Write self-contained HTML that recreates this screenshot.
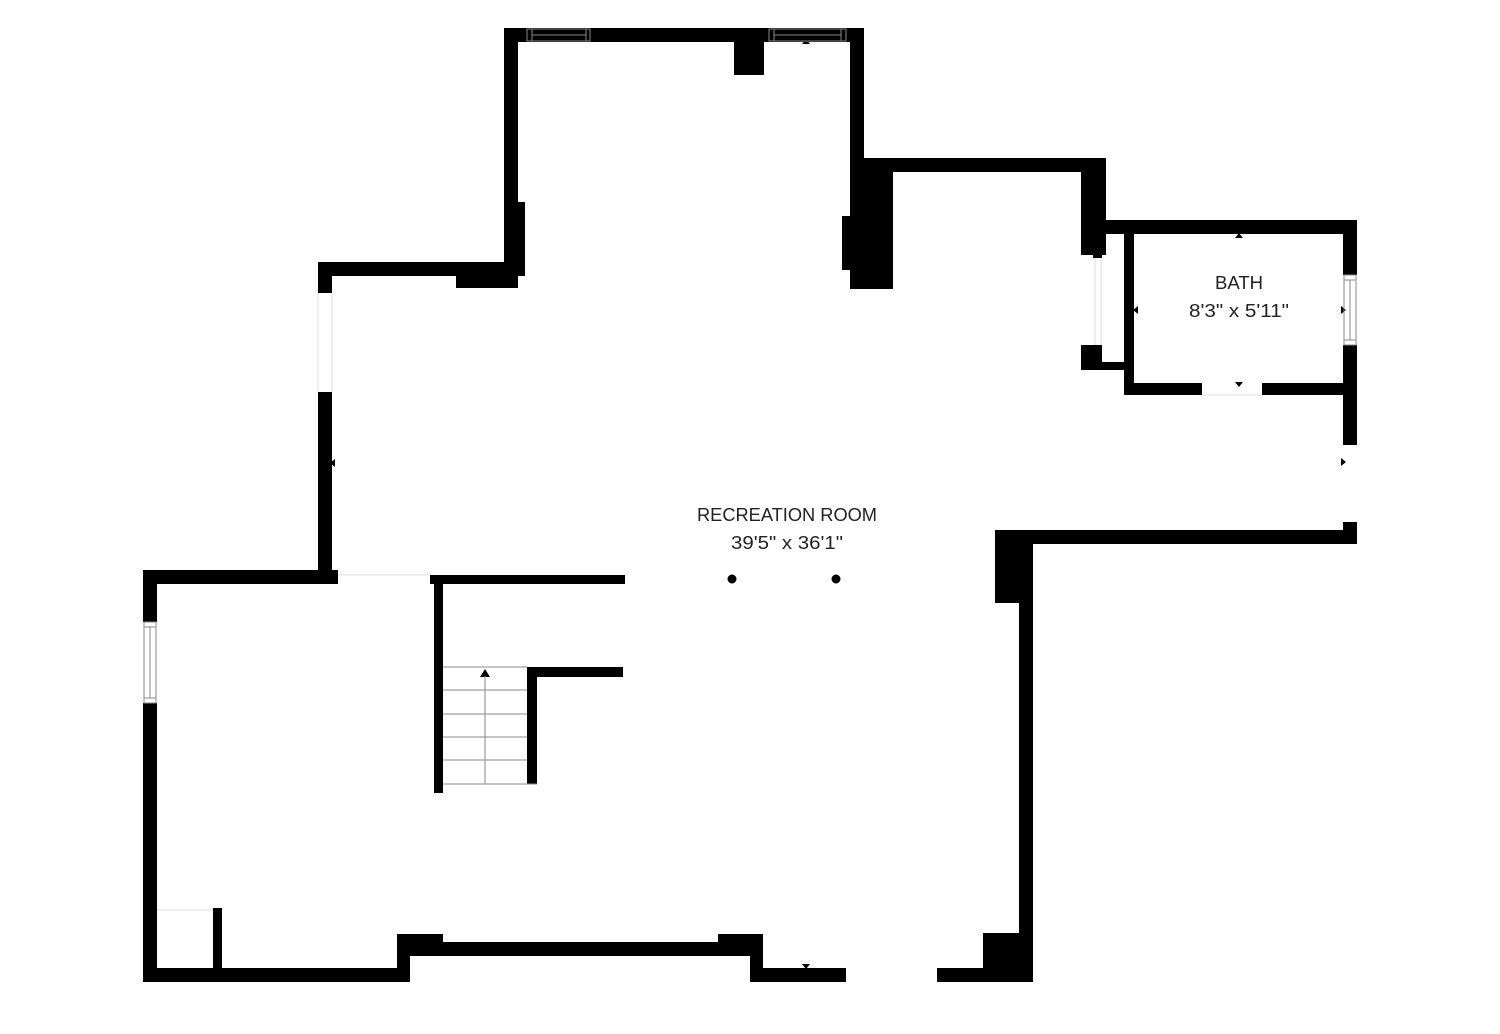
<!DOCTYPE html>
<html><head><meta charset="utf-8"><style>
html,body{margin:0;padding:0;background:#fff;width:1500px;height:1034px;overflow:hidden}
svg{display:block}
text{font-family:"Liberation Sans",sans-serif;fill:#222}
</style></head><body>
<svg width="1500" height="1034" viewBox="0 0 1500 1034" xmlns="http://www.w3.org/2000/svg">
<g fill="#000">
<!-- top room -->
<rect x="504" y="28" width="360" height="14"/>
<rect x="504" y="28" width="14" height="248"/>
<rect x="518" y="202" width="7" height="74"/>
<rect x="734" y="42" width="30" height="33"/>
<rect x="850" y="28" width="14" height="140"/>
<!-- upper left -->
<rect x="318" y="262" width="200" height="14"/>
<rect x="456" y="276" width="62" height="12"/>
<rect x="318" y="262" width="14" height="31"/>
<rect x="318" y="392" width="14" height="190"/>
<!-- middle wall -->
<rect x="850" y="158" width="256" height="14"/>
<rect x="850" y="158" width="43" height="131"/>
<rect x="842" y="216" width="10" height="54"/>
<rect x="1081" y="158" width="25" height="97"/>
<rect x="1093" y="240" width="9" height="18"/>
<rect x="1081" y="345" width="21" height="25"/>
<rect x="1100" y="362" width="26" height="8"/>
<!-- bath -->
<rect x="1106" y="220" width="251" height="14"/>
<rect x="1343" y="220" width="14" height="55"/>
<rect x="1343" y="345" width="14" height="100"/>
<rect x="1343" y="522" width="14" height="22"/>
<rect x="1124" y="234" width="10" height="161"/>
<rect x="1124" y="383" width="78" height="12"/>
<rect x="1262" y="383" width="81" height="12"/>
<!-- right lower -->
<rect x="995" y="530" width="362" height="14"/>
<rect x="995" y="530" width="38" height="73"/>
<rect x="1019" y="530" width="14" height="452"/>
<rect x="983" y="933" width="50" height="49"/>
<rect x="937" y="968" width="96" height="14"/>
<!-- bottom -->
<rect x="750" y="968" width="96" height="14"/>
<rect x="750" y="934" width="13" height="48"/>
<rect x="397" y="942" width="366" height="14"/>
<rect x="397" y="934" width="46" height="22"/>
<rect x="718" y="934" width="45" height="22"/>
<rect x="397" y="934" width="13" height="48"/>
<rect x="143" y="968" width="267" height="14"/>
<!-- left room -->
<rect x="143" y="570" width="14" height="52"/>
<rect x="143" y="703" width="14" height="279"/>
<rect x="143" y="570" width="195" height="14"/>
<rect x="430" y="575" width="195" height="9"/>
<rect x="434" y="575" width="9" height="218"/>
<rect x="527" y="667" width="10" height="117"/>
<rect x="527" y="667" width="96" height="10"/>
<rect x="213" y="908" width="9" height="60"/>
<!-- dots -->
<circle cx="732" cy="579" r="4.5"/>
<circle cx="836" cy="579" r="4.5"/>
<!-- arrow marks -->
<polygon points="802,44 810,44 806,39"/>
<polygon points="1235,238 1243,238 1239,233"/>
<polygon points="1235,382 1243,382 1239,387"/>
<polygon points="1138,306 1138,314 1133,310"/>
<polygon points="1341,306 1341,314 1346,310"/>
<polygon points="1341,458 1341,466 1346,462"/>
<polygon points="335,459 335,467 330,463"/>
<polygon points="802,964 810,964 806,969"/>
<polygon points="480,677 490,677 485,669"/>
</g>
<g stroke="#888" stroke-width="1" fill="none">
<!-- top windows -->
<rect x="527" y="29" width="63" height="12"/>
<line x1="532" y1="29" x2="532" y2="41"/><line x1="586" y1="29" x2="586" y2="41"/>
<line x1="532" y1="35" x2="586" y2="35"/>
<rect x="769" y="29" width="77" height="12"/>
<line x1="774" y1="29" x2="774" y2="41"/><line x1="841" y1="29" x2="841" y2="41"/>
<line x1="774" y1="35" x2="841" y2="35"/>
<!-- bath window -->
<rect x="1344" y="275" width="12" height="70"/>
<line x1="1344" y1="280" x2="1356" y2="280"/><line x1="1344" y1="340" x2="1356" y2="340"/>
<line x1="1350" y1="280" x2="1350" y2="340"/>
<!-- left window -->
<rect x="144" y="622" width="12" height="81"/>
<line x1="144" y1="627" x2="156" y2="627"/><line x1="144" y1="698" x2="156" y2="698"/>
<line x1="150" y1="627" x2="150" y2="698"/>
<!-- stairs -->
<line x1="443" y1="667" x2="527" y2="667"/>
<line x1="443" y1="690" x2="527" y2="690"/>
<line x1="443" y1="714" x2="527" y2="714"/>
<line x1="443" y1="737" x2="527" y2="737"/>
<line x1="443" y1="760" x2="527" y2="760"/>
<line x1="443" y1="784" x2="537" y2="784"/>
<line x1="485" y1="676" x2="485" y2="784"/>
</g>
<g stroke="#ddd" stroke-width="1" fill="none">
<line x1="338" y1="575" x2="430" y2="575"/>
<line x1="157" y1="910" x2="213" y2="910"/>
<line x1="1095" y1="258" x2="1095" y2="345"/><line x1="1101" y1="258" x2="1101" y2="345"/>
<line x1="318" y1="293" x2="318" y2="392"/><line x1="332" y1="293" x2="332" y2="392"/>
<line x1="1202" y1="395" x2="1262" y2="395"/>
</g>
<text x="787" y="521" font-size="18" text-anchor="middle" textLength="180" lengthAdjust="spacingAndGlyphs">RECREATION ROOM</text>
<text x="787" y="549" font-size="18" text-anchor="middle" textLength="112" lengthAdjust="spacingAndGlyphs">39'5" x 36'1"</text>
<text x="1239" y="289" font-size="18" text-anchor="middle" textLength="48" lengthAdjust="spacingAndGlyphs">BATH</text>
<text x="1239" y="317" font-size="18" text-anchor="middle" textLength="100" lengthAdjust="spacingAndGlyphs">8'3" x 5'11"</text>
</svg>
</body></html>
